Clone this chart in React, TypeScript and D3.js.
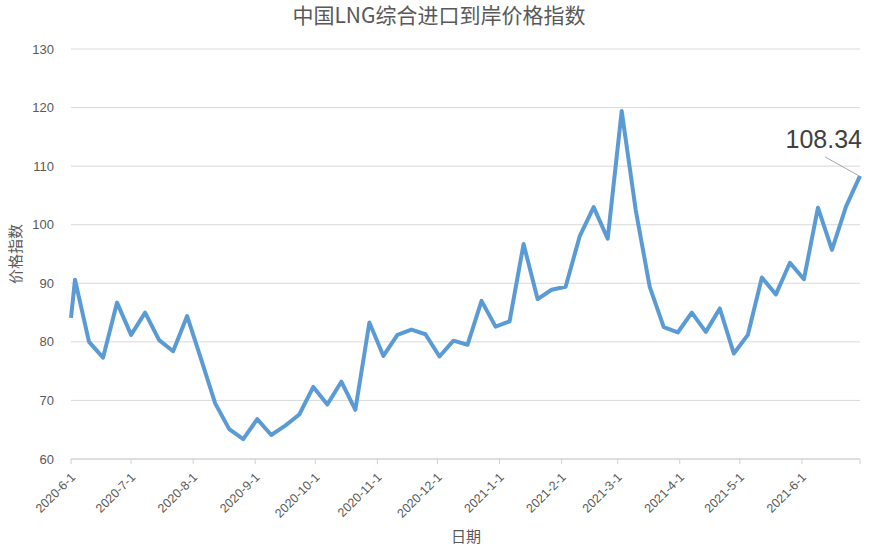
import React from "react";
import * as d3 from "d3";

const TITLE = "中国LNG综合进口到岸价格指数";
const X_TITLE = "日期";
const Y_TITLE = "价格指数";

const dates: string[] = [
  "2020-06-01", "2020-06-03", "2020-06-10", "2020-06-17", "2020-06-24",
  "2020-07-01", "2020-07-08", "2020-07-15", "2020-07-22", "2020-07-29",
  "2020-08-05", "2020-08-12", "2020-08-19", "2020-08-26",
  "2020-09-02", "2020-09-09", "2020-09-16", "2020-09-23", "2020-09-30",
  "2020-10-07", "2020-10-14", "2020-10-21", "2020-10-28",
  "2020-11-04", "2020-11-11", "2020-11-18", "2020-11-25",
  "2020-12-02", "2020-12-09", "2020-12-16", "2020-12-23", "2020-12-30",
  "2021-01-06", "2021-01-13", "2021-01-20", "2021-01-27",
  "2021-02-03", "2021-02-10", "2021-02-17", "2021-02-24",
  "2021-03-03", "2021-03-10", "2021-03-17", "2021-03-24", "2021-03-31",
  "2021-04-07", "2021-04-14", "2021-04-21", "2021-04-28",
  "2021-05-05", "2021-05-12", "2021-05-19", "2021-05-26",
  "2021-06-02", "2021-06-09", "2021-06-16", "2021-06-23", "2021-06-30",
];

const values: number[] = [
  84.1, 90.6, 80.0, 77.3, 86.7,
  81.2, 85.0, 80.3, 78.4, 84.4,
  77.0, 69.5, 65.1, 63.4,
  66.8, 64.1, 65.7, 67.6, 72.3,
  69.3, 73.2, 68.4, 83.3,
  77.6, 81.2, 82.1, 81.3,
  77.5, 80.2, 79.5, 87.0, 82.6,
  83.5, 96.7, 87.3, 88.9,
  89.4, 98.0, 103.0, 97.6,
  119.4, 102.5, 89.4, 82.5, 81.6,
  85.0, 81.7, 85.7, 78.0,
  81.2, 91.0, 88.1, 93.5,
  90.7, 102.9, 95.7, 103.1, 108.34,
];

const yTicks: number[] = [60, 70, 80, 90, 100, 110, 120, 130];
const xDomain: string[] = ["2020-06-01", "2021-06-30"];
const lastLabel = "108.34";

const W = 873;
const H = 558;
const M = { left: 71, right: 860, top: 49, bottom: 459 };

export default function App() {
  const parse = d3.timeParse("%Y-%m-%d");
  const data = dates.map((d, i) => ({ date: parse(d) as Date, value: values[i] }));
  const x = d3
    .scaleTime()
    .domain([parse(xDomain[0]) as Date, parse(xDomain[1]) as Date])
    .range([M.left, M.right]);
  const y = d3.scaleLinear().domain([60, 130]).range([M.bottom, M.top]);
  const monthTicks = d3.timeMonth.range(x.domain()[0], d3.timeDay.offset(x.domain()[1], 1));
  const fmt = d3.timeFormat("%Y-%-m-%-d");
  const line = d3
    .line<{ date: Date; value: number }>()
    .x((d) => x(d.date))
    .y((d) => y(d.value));
  const last = data[data.length - 1];
  const lx = x(last.date);
  const ly = y(last.value);

  const cjk = "'Noto Sans CJK SC', 'Noto Sans', sans-serif";
  const num = "'Liberation Sans', 'Noto Sans', sans-serif";

  return (
    <svg
      width={W}
      height={H}
      style={{ position: "absolute", left: 0, top: 0, background: "#fff" }}
    >
      <text x={439} y={23} textAnchor="middle" fontFamily={cjk} fontSize={21} fill="#595959">
        {TITLE}
      </text>
      {yTicks.map((t) => (
        <g key={t}>
          <line x1={M.left} x2={M.right} y1={y(t)} y2={y(t)} stroke="#d9d9d9" strokeWidth={1} />
          <text
            x={54}
            y={y(t)}
            dy="0.35em"
            textAnchor="end"
            fontFamily={num}
            fontSize={13}
            fill="#595959"
          >
            {t}
          </text>
        </g>
      ))}
      <line x1={M.left} x2={M.right} y1={M.bottom} y2={M.bottom} stroke="#d0d0d0" strokeWidth={1} />
      {monthTicks.map((d) => (
        <g key={d.toISOString()}>
          <line x1={x(d)} x2={x(d)} y1={M.bottom} y2={M.bottom + 5} stroke="#d0d0d0" />
          <text
            transform={`translate(${x(d) + 2},${M.bottom + 16}) rotate(-45)`}
            textAnchor="end"
            dy="0.35em"
            fontFamily={num}
            fontSize={12.5}
            fill="#595959"
          >
            {fmt(d)}
          </text>
        </g>
      ))}
      <line x1={M.right} x2={M.right} y1={M.bottom} y2={M.bottom + 5} stroke="#d0d0d0" />
      <text x={466} y={542} textAnchor="middle" fontFamily={cjk} fontSize={15} fill="#595959">
        {X_TITLE}
      </text>
      <text
        transform={`translate(21,254) rotate(-90)`}
        textAnchor="middle"
        fontFamily={cjk}
        fontSize={15}
        fill="#595959"
      >
        {Y_TITLE}
      </text>
      <path
        d={line(data) || ""}
        fill="none"
        stroke="#5b9bd5"
        strokeWidth={4}
        strokeLinejoin="round"
        strokeLinecap="butt"
      />
      <line x1={lx - 35} y1={ly - 19} x2={lx - 1} y2={ly} stroke="#a6a6a6" strokeWidth={1} />
      <text x={862} y={ly - 28} textAnchor="end" fontFamily={num} fontSize={25} fill="#404040">
        {lastLabel}
      </text>
    </svg>
  );
}
